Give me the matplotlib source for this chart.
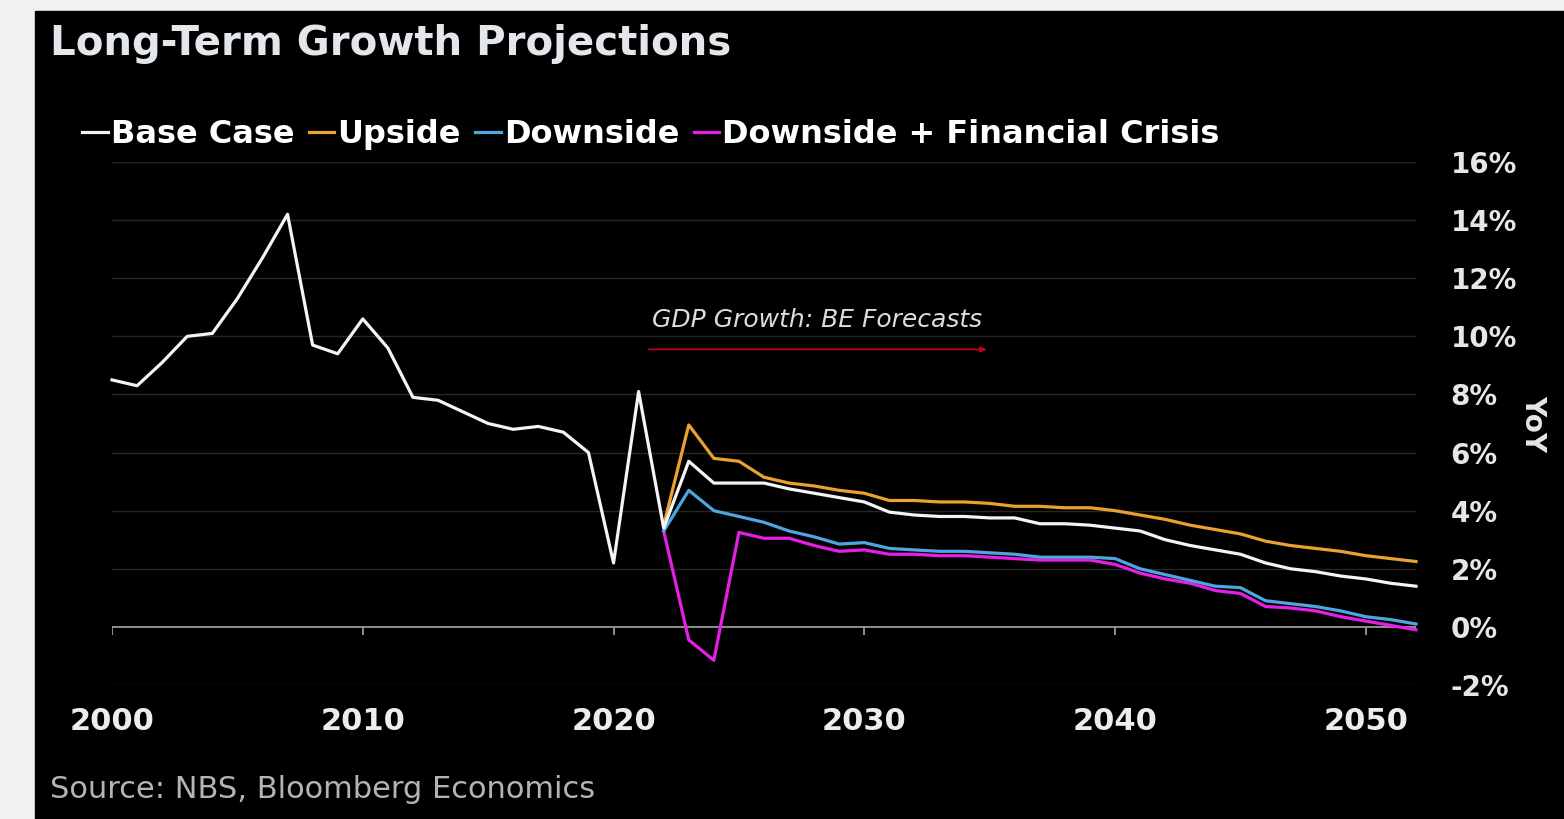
import numpy as np
import matplotlib.pyplot as plt
from matplotlib.patches import Rectangle

# GDP growth, % YoY
years = np.arange(2000, 2053)
base_case = [8.5, 8.3, 9.1, 10.0, 10.1, 11.3, 12.7, 14.2, 9.7, 9.4,
             10.6, 9.6, 7.9, 7.8, 7.4, 7.0, 6.8, 6.9, 6.7, 6.0,
             2.2, 8.1, 3.4, 5.7, 4.95, 4.95, 4.95, 4.75, 4.6, 4.45,
             4.3, 3.95, 3.85, 3.8, 3.8, 3.75, 3.75, 3.55, 3.55, 3.5,
             3.4, 3.3, 3.0, 2.8, 2.65, 2.5, 2.2, 2.0, 1.9, 1.75,
             1.65, 1.5, 1.4]

fc_years = np.arange(2022, 2053)
upside = [3.5, 6.95, 5.8, 5.7, 5.15, 4.95, 4.85, 4.7, 4.6, 4.35,
          4.35, 4.3, 4.3, 4.25, 4.15, 4.15, 4.1, 4.1, 4.0, 3.85,
          3.7, 3.5, 3.35, 3.2, 2.95, 2.8, 2.7, 2.6, 2.45, 2.35, 2.25]
downside = [3.3, 4.7, 4.0, 3.8, 3.6, 3.3, 3.1, 2.85, 2.9, 2.7,
            2.65, 2.6, 2.6, 2.55, 2.5, 2.4, 2.4, 2.4, 2.35, 2.0,
            1.8, 1.6, 1.4, 1.35, 0.9, 0.8, 0.7, 0.55, 0.35, 0.25, 0.1]
crisis = [3.3, -0.45, -1.15, 3.25, 3.05, 3.05, 2.8, 2.6, 2.65, 2.5,
          2.5, 2.45, 2.45, 2.4, 2.35, 2.3, 2.3, 2.3, 2.15, 1.85,
          1.65, 1.5, 1.25, 1.15, 0.7, 0.65, 0.55, 0.35, 0.2, 0.05, -0.1]

y_ticks = np.arange(-2, 17, 2)
x_ticks = [2000, 2010, 2020, 2030, 2040, 2050]

WHITE = '#f4f4f4'
ORANGE = '#eba12e'
BLUE = '#4ea6e0'
MAGENTA = '#e61ee6'

W, H = 1564, 819
fig = plt.figure(figsize=(W / 100, H / 100), dpi=100, facecolor='#f0f1f3')
fig.patches.append(Rectangle((35 / W, 0), 1 - 35 / W, (H - 11) / H,
                             transform=fig.transFigure, color='black', zorder=-10))

ax = fig.add_axes([112 / W, (H - 685) / H, (1416 - 112) / W, (685 - 162) / H])
ax.set_facecolor('none')
ax.set_xlim(2000, 2052)
ax.set_ylim(-2, 16)
for s in ax.spines.values():
    s.set_visible(False)

# grid and zero line
for v in y_ticks:
    if v == 0:
        ax.axhline(v, color='#9a9a9a', lw=1.3, zorder=1)
    else:
        ax.axhline(v, color='#262626', lw=1.0, zorder=1)
ax.vlines(x_ticks, -0.28, 0, color='#9a9a9a', lw=1.3, zorder=1)

ax.plot(years, base_case, color=WHITE, lw=2.3, label='Base Case', zorder=5, clip_on=False)
ax.plot(fc_years, upside, color=ORANGE, lw=2.3, label='Upside', zorder=4, clip_on=False)
ax.plot(fc_years, downside, color=BLUE, lw=2.3, label='Downside', zorder=4, clip_on=False)
ax.plot(fc_years, crisis, color=MAGENTA, lw=2.3, label='Downside + Financial Crisis',
        zorder=3, clip_on=False)

ax.set_xticks(x_ticks)
ax.set_xticklabels([str(x) for x in x_ticks])
ax.set_yticks(y_ticks)
ax.set_yticklabels([f'{v}%' for v in y_ticks])
ax.yaxis.tick_right()
ax.tick_params(axis='x', length=0, pad=16, labelsize=22, labelcolor='#ededed')
ax.tick_params(axis='y', length=0, pad=25, labelsize=20, labelcolor='#e6e6e6')
for lab in ax.get_xticklabels() + ax.get_yticklabels():
    lab.set_fontweight('bold')
for lab in ax.get_yticklabels():
    lab.set_horizontalalignment('left')

ax.text(1.09, 0.5, 'YoY', transform=ax.transAxes, rotation=270, ha='center', va='center',
        fontsize=20, fontweight='bold', color='#e6e6e6')

# forecast annotation
ax.annotate('', xy=(2035, 9.55), xytext=(2021.3, 9.55),
            arrowprops=dict(arrowstyle='-|>,head_length=0.35,head_width=0.15',
                            color='#c8001a', lw=1.2))
ax.text(2028.1, 10.55, 'GDP Growth: BE Forecasts', ha='center', va='center',
        fontsize=18, style='italic', color='#dcdcdc')

leg = ax.legend(loc='center left', bbox_to_anchor=(-30 / 1304, 1.052), ncol=4, frameon=False,
                handlelength=0.8, handletextpad=0.1, columnspacing=0.45,
                borderaxespad=0, borderpad=0, labelcolor='white',
                prop={'weight': 'bold', 'size': 23})

fig.text(50 / W, (H - 44) / H, 'Long-Term Growth Projections', fontsize=29,
         fontweight='bold', color='#e3e6ea', va='center', ha='left')
fig.text(50 / W, (H - 790) / H, 'Source: NBS, Bloomberg Economics', fontsize=22,
         color='#b4b4b4', va='center', ha='left')

fig.savefig('out.png', dpi=100, facecolor=fig.get_facecolor())
